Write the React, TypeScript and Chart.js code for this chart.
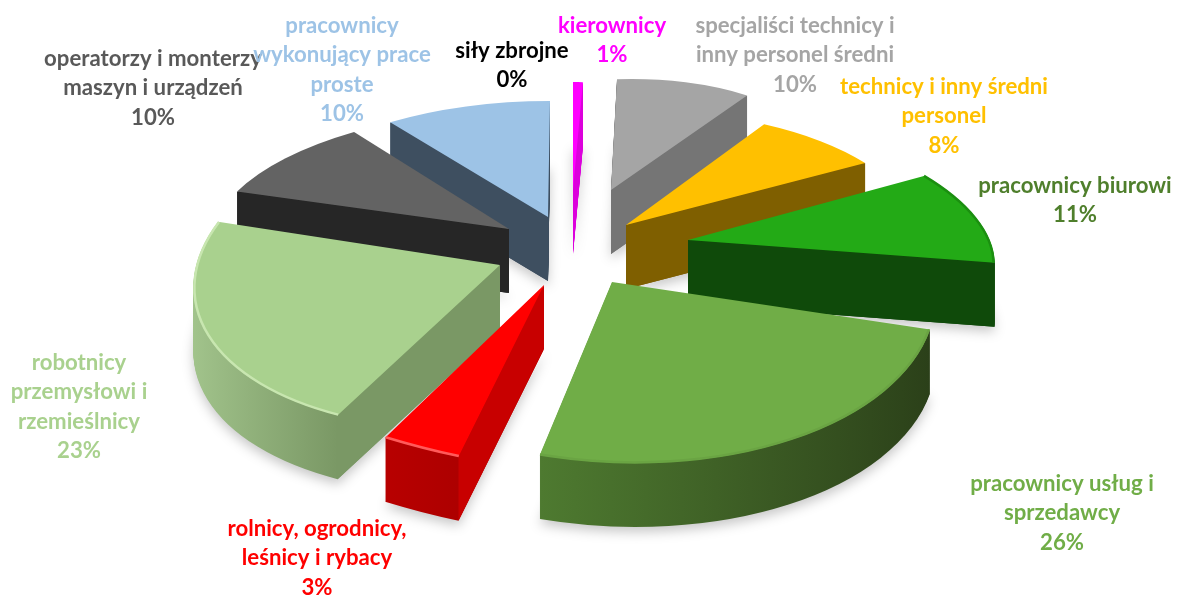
import React, { useEffect, useRef } from "react";
import { Chart, registerables } from "chart.js";

Chart.register(...registerables);

// ---- data ----
const categories = [
  "kierownicy",
  "specjaliści technicy i inny personel średni",
  "technicy i inny średni personel",
  "pracownicy biurowi",
  "pracownicy usług i sprzedawcy",
  "rolnicy, ogrodnicy, leśnicy i rybacy",
  "robotnicy przemysłowi i rzemieślnicy",
  "operatorzy i monterzy maszyn i urządzeń",
  "pracownicy wykonujący prace proste",
  "siły zbrojne",
];
const shares = [1, 10, 8, 11, 26, 3, 23, 10, 10, 0];

// ---- label text and look ----
const labelLines = [
  ["kierownicy"],
  ["specjaliści technicy i", "inny personel średni"],
  ["technicy i inny średni", "personel"],
  ["pracownicy biurowi"],
  ["pracownicy usług i", "sprzedawcy"],
  ["rolnicy, ogrodnicy,", "leśnicy i rybacy"],
  ["robotnicy", "przemysłowi i", "rzemieślnicy"],
  ["operatorzy i monterzy", "maszyn i urządzeń"],
  ["pracownicy", "wykonujący prace", "proste"],
  ["siły zbrojne"],
];
const labelAnchorX = [612, 795, 944, 1075, 1062, 317, 79, 153, 342, 512];
const labelAnchorY = [26, 26, 87, 186, 484, 529, 363, 59, 26, 51];
const labelColors = ["#ff00ff", "#a5a5a5", "#ffc000", "#4f7f2c", "#70ad47", "#ff0000", "#a9d18e", "#595959", "#9dc3e6", "#000000"];

const topColors = ["#ff00ff", "#a5a5a5", "#ffc000", "#23aa16", "#70ad47", "#ff0000", "#a9d18e", "#636363", "#9dc3e6", "#000000"];
const wallColors = ["#dc00dc", "#757575", "#7f5f00", "#0f4a0a", "#3a5a26", "#c80000", "#7a9865", "#262626", "#3e4f60", "#000000"];
const rimLeft = ["#dc00dc", "#757575", "#7f5f00", "#0f4a0a", "#4e7a30", "#b80000", "#a2c48c", "#262626", "#3e4f60", "#000000"];
const rimRight = ["#dc00dc", "#757575", "#7f5f00", "#0f4a0a", "#2b4019", "#ad0000", "#7a9865", "#262626", "#3e4f60", "#000000"];
const bevelColors = [null, null, null, "#1b8f10", "#6aa443", "#ff5a5a", "#c8e6b0", null, null, null];

// ---- pseudo-3D projection per slice: explosion and 2x2 matrix, in pixels ----
const centerX = 575;
const centerY = 240;
const depth = 64;
const explodeX = [-2, 36, 51, 113, 37, -31, -75, -66, -27, 0];
const explodeY = [-50, -50, -15, 0, 42, 45, 25, -11, -23, -50];
const projA = [161, 227, 280, 294, 323, 414, 306, 295, 276, 100];
const projB = [0, 8, 48, 87, 27, 42, -20, -19, -2, 0];
const projC = [0, -14, -19, -14, -2, 31, -12, -3, 0, 0];
const projD = [108, 110, 114, 132, 181, 190, 164, 121, 116, 100];

const arcOptions = (fill: any) => ({
  backgroundColor: fill,
  borderColor: "transparent",
  borderWidth: 0,
  borderAlign: "center",
  borderJoinStyle: "round",
  borderDash: [],
  borderDashOffset: 0,
  borderRadius: 0,
  circular: true,
  offset: 0,
  spacing: 0,
});

const pie3d = {
  id: "pie3d",
  beforeDatasetsDraw(chart: any) {
    const ctx: CanvasRenderingContext2D = chart.ctx;
    const arcs: any[] = chart.getDatasetMeta(0).data;
    const midV = (el: any) => Math.sin((el.startAngle + el.endAngle) / 2);
    const order = arcs.map((_, i) => i).sort((a, b) => midV(arcs[a]) - midV(arcs[b]));

    for (const i of order) {
      const el = arcs[i];
      if (el.circumference <= 0) continue;
      const R = el.outerRadius;
      const apexX = centerX + explodeX[i];
      const apexY = centerY + explodeY[i];
      const place = (dy: number) => {
        ctx.translate(apexX, apexY + dy);
        ctx.transform(projA[i] / R, projC[i] / R, projB[i] / R, projD[i] / R, 0, 0);
        ctx.translate(-el.x, -el.y);
      };
      const toScreen = (a: number, dy: number) => {
        const u = Math.cos(a);
        const v = Math.sin(a);
        return [apexX + projA[i] * u + projB[i] * v, apexY + dy + projC[i] * u + projD[i] * v];
      };

      // rim shading spans the slice's own horizontal extent
      const a0 = el.startAngle;
      const a1 = el.endAngle;
      const us = [Math.cos(a0), Math.cos(a1)];
      if (a0 < Math.PI && a1 > Math.PI) us.push(-1);
      if (a0 < 0 && a1 > 0) us.push(1);
      const g = ctx.createLinearGradient(el.x + R * Math.min(...us), el.y, el.x + R * Math.max(...us), el.y);
      g.addColorStop(0, rimLeft[i]);
      g.addColorStop(1, rimRight[i]);
      const saved = el.options;

      // extruded body
      el.options = arcOptions(g);
      for (let d = depth; d >= 1; d--) {
        ctx.save();
        if (d === depth) {
          ctx.shadowColor = "rgba(0,0,0,0.22)";
          ctx.shadowBlur = 12;
          ctx.shadowOffsetY = 5;
        }
        place(d);
        el.draw(ctx);
        ctx.restore();
      }

      // radial walls that face the viewer
      const apex = [apexX, apexY];
      const p0 = toScreen(a0, 0);
      const p1 = toScreen(a1, 0);
      const faces = (e: number[], q: number[]) => {
        const ex = e[0] - apex[0];
        const ey = e[1] - apex[1];
        const qx = q[0] - apex[0];
        const qy = q[1] - apex[1];
        return ex * (ex * qy - ey * qx) < 0;
      };
      for (const [e, q] of [[p0, p1], [p1, p0]]) {
        if (!faces(e, q)) continue;
        ctx.fillStyle = wallColors[i];
        ctx.beginPath();
        ctx.moveTo(apex[0], apex[1]);
        ctx.lineTo(e[0], e[1]);
        ctx.lineTo(e[0], e[1] + depth);
        ctx.lineTo(apex[0], apex[1] + depth);
        ctx.closePath();
        ctx.fill();
      }

      // top face
      el.options = arcOptions(topColors[i]);
      ctx.save();
      place(0);
      el.draw(ctx);
      ctx.restore();
      el.options = saved;

      // bevel along the outer edge
      if (bevelColors[i]) {
        ctx.save();
        ctx.save();
        place(0);
        ctx.beginPath();
        ctx.arc(el.x, el.y, R - 1, a0, a1);
        ctx.restore();
        ctx.strokeStyle = bevelColors[i] as string;
        ctx.lineWidth = 2.5;
        ctx.stroke();
        ctx.restore();
      }
    }
    return false;
  },
  afterDraw(chart: any) {
    const ctx: CanvasRenderingContext2D = chart.ctx;
    ctx.save();
    ctx.font = "bold 22.2px Lato";
    ctx.textAlign = "center";
    ctx.textBaseline = "middle";
    shares.forEach((value, i) => {
      ctx.fillStyle = labelColors[i];
      const lines = [...labelLines[i], `${value}%`];
      lines.forEach((line, k) => ctx.fillText(line, labelAnchorX[i], labelAnchorY[i] + k * 29.2));
    });
    ctx.restore();
  },
};

export default function App() {
  const ref = useRef<HTMLCanvasElement>(null);
  useEffect(() => {
    const chart = new Chart(ref.current as HTMLCanvasElement, {
      type: "pie",
      data: {
        labels: categories,
        datasets: [{ data: shares, backgroundColor: topColors, borderWidth: 0 }],
      },
      options: {
        animation: false,
        responsive: false,
        layout: { padding: 0 },
        plugins: { legend: { display: false }, tooltip: { enabled: false } },
      },
      plugins: [pie3d],
    } as any);
    return () => chart.destroy();
  }, []);
  return (
    <div style={{ position: "fixed", left: 0, top: 0, width: 1178, height: 596, background: "#fff" }}>
      <canvas ref={ref} width={1178} height={596} style={{ display: "block" }} />
    </div>
  );
}
